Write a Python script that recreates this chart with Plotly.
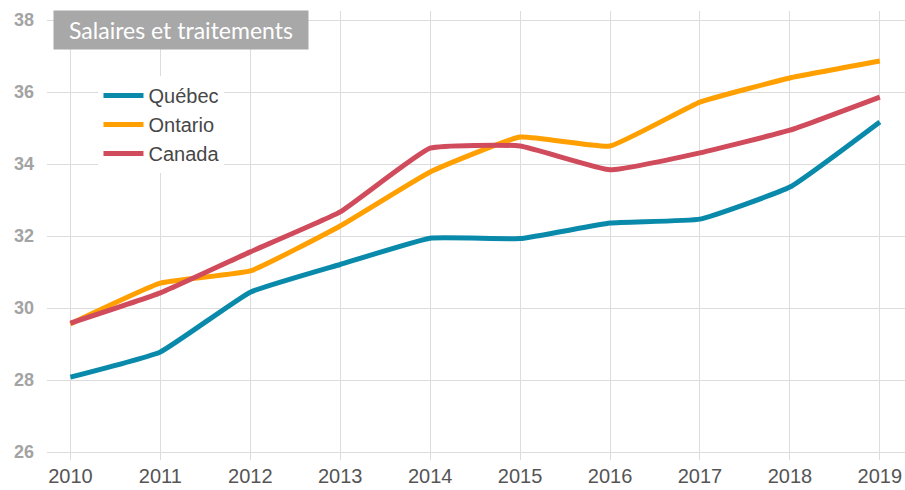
import plotly.graph_objects as go

years = [2010, 2011, 2012, 2013, 2014, 2015, 2016, 2017, 2018, 2019]
quebec = [28.08, 28.78, 30.44, 31.21, 31.94, 31.93, 32.36, 32.47, 33.36, 35.17]
ontario = [29.56, 30.69, 31.03, 32.28, 33.78, 34.75, 34.50, 35.72, 36.39, 36.86]
canada = [29.58, 30.42, 31.56, 32.67, 34.44, 34.50, 33.84, 34.31, 34.94, 35.86]
y_ticks = [26, 28, 30, 32, 34, 36, 38]
title_text = "Salaires et traitements"

series = [
    ("Québec", quebec, "#0a8aab"),
    ("Ontario", ontario, "#ffa000"),
    ("Canada", canada, "#d04b5b"),
]

fig = go.Figure()
for i, (name, vals, col) in enumerate(series):
    fig.add_trace(go.Scatter(
        x=years, y=vals, name=name, mode="lines",
        line=dict(color=col, width=5, shape="spline", smoothing=0.35),
        legendgroup=str(i),
    ))

fig.update_layout(
    width=905, height=490,
    margin=dict(l=47, r=0, t=11, b=30),
    paper_bgcolor="white", plot_bgcolor="white",
    showlegend=True,
    legend=dict(
        x=0.06, y=0.855, xanchor="left", yanchor="top",
        bgcolor="white", borderwidth=0,
        font=dict(family="Liberation Sans, Arial, sans-serif", size=20, color="#474747"),
        tracegroupgap=0, itemwidth=40,
    ),
    xaxis=dict(
        range=[2009.74, 2019.28], tickmode="array", tickvals=years,
        ticktext=[str(y) for y in years],
        showgrid=True, gridcolor="#dcdcdc", gridwidth=1,
        zeroline=False, showline=False,
        tickfont=dict(family="Liberation Sans, Arial, sans-serif", size=20, color="#555555"),
        ticks="", ticklabelstandoff=2,
    ),
    yaxis=dict(
        range=[25.78, 38.25], tickmode="array", tickvals=y_ticks,
        showgrid=True, gridcolor="#dcdcdc", gridwidth=1,
        zeroline=False, showline=False,
        tickfont=dict(family="Liberation Sans, Arial, sans-serif", size=18, color="#a3a3a3", weight="bold"),
        ticks="", ticklabelstandoff=12,
    ),
    annotations=[dict(
        text=title_text, xref="paper", yref="paper",
        x=(53 - 47) / 858, y=(460 - 10) / 449, xanchor="left", yanchor="top",
        showarrow=False, bgcolor="#a8a8a8", borderpad=4,
        width=246, height=30, align="center", valign="middle",
        font=dict(family="Lato, sans-serif", size=23, color="white"),
    )],
)

fig.write_html("out.html", config={"displayModeBar": False},
               post_script="document.body.style.margin='0';document.body.style.overflow='hidden';")
